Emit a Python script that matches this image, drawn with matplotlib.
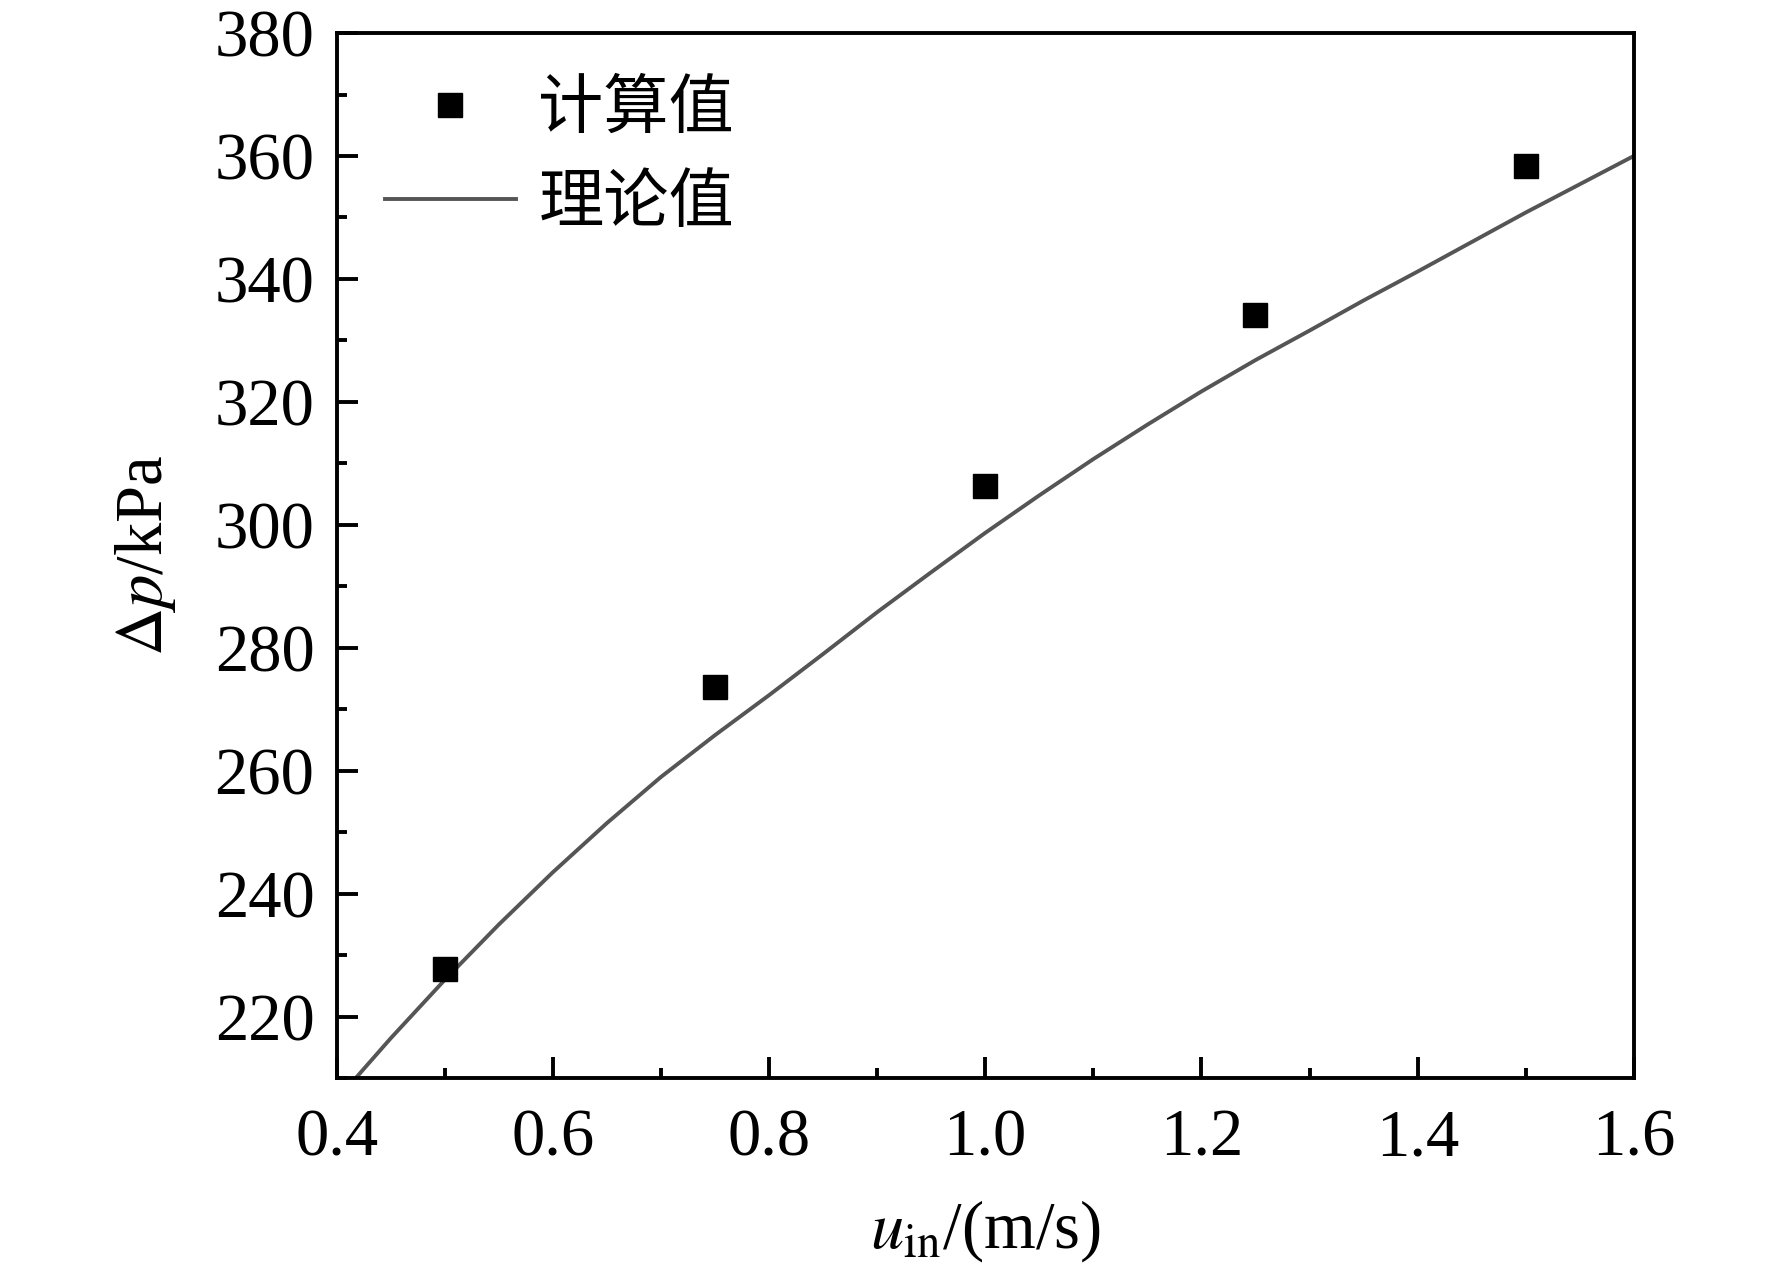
import matplotlib
matplotlib.use("Agg")
from matplotlib import pyplot as plt
from matplotlib.ticker import MultipleLocator

# computed values (markers)
u_calc = [0.5, 0.75, 1.0, 1.25, 1.5]
dp_calc = [227.8, 273.6, 306.3, 334.2, 358.3]

# theoretical curve
u_theory = [0.40, 0.45, 0.50, 0.55, 0.60, 0.65, 0.70, 0.75, 0.80, 0.85, 0.90, 0.95,
            1.00, 1.05, 1.10, 1.15, 1.20, 1.25, 1.30, 1.35, 1.40, 1.45, 1.50, 1.55, 1.60]
dp_theory = [206.5, 216.5, 226.0, 235.0, 243.5, 251.5, 259.0, 265.8, 272.3, 279.0, 285.8, 292.3,
             298.7, 304.8, 310.7, 316.3, 321.7, 326.8, 331.6, 336.5, 341.2, 346.0, 350.8, 355.4, 360.0]

legend_calc = "计算值"
legend_theory = "理论值"

plt.rcParams['font.family'] = ['Liberation Serif', 'Noto Sans CJK SC']
plt.rcParams['mathtext.fontset'] = 'stix'

fig = plt.figure(figsize=(17.72, 12.70), dpi=100)
ax = fig.add_axes([0.190, 0.151, 0.732, 0.823])

ax.plot(u_theory, dp_theory, color='#555555', lw=2.8, label=legend_theory, zorder=2)
ax.plot(u_calc, dp_calc, 's', color='black', markersize=17, label=legend_calc, zorder=3)

ax.set_xlim(0.4, 1.6)
ax.set_ylim(210, 380)
ax.xaxis.set_major_locator(MultipleLocator(0.2))
ax.xaxis.set_minor_locator(MultipleLocator(0.1))
ax.yaxis.set_major_locator(MultipleLocator(20))
ax.yaxis.set_minor_locator(MultipleLocator(10))
ax.xaxis.set_major_formatter(plt.FuncFormatter(lambda v, p: f"{v:.1f}"))

ax.tick_params(which='both', direction='in', top=False, right=False, width=2.8, labelsize=48)
ax.tick_params(which='major', length=15)
ax.tick_params(which='minor', length=7.5)
ax.tick_params(axis='x', pad=22)
ax.tick_params(axis='y', pad=16)
for s in ax.spines.values():
    s.set_linewidth(2.8)

ax.set_xlabel(r"$u_{\mathrm{in}}$/(m/s)", fontsize=48, labelpad=20)
ax.set_ylabel(r"$\Delta p$/kPa", fontsize=48, labelpad=26)

handles, labels = ax.get_legend_handles_labels()
ax.legend(handles[::-1], labels[::-1], loc='upper left', frameon=False,
          prop={'family': ['Noto Sans CJK SC'], 'size': 47},
          handlelength=2.0, handletextpad=0.35, labelspacing=0.42,
          bbox_to_anchor=(-0.008, 1.015))

plt.savefig('out.png', dpi=100)
